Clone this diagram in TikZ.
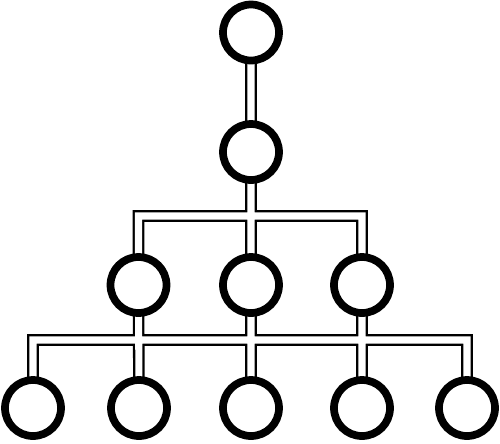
\documentclass[tikz,border=0pt]{standalone}
\usetikzlibrary{backgrounds}
\tikzset{
  knot/.style={circle, draw, fill=white, line width=4.4pt, inner sep=0pt, minimum size=11.2mm},
  link/.style={draw, line width=1.3pt, double=white, double distance=4pt, line join=miter}
}
\begin{document}
\begin{tikzpicture}[x=0.2mm, y=-0.2mm]
                \useasboundingbox (0,0) rectangle (500,443);
                % levels 1 and 2
                \node[knot] (a) at (251,32.5) {};
                \node[knot] (b) at (251,152) {};
                % level 3
                \node[knot] (c1) at (138.5,285) {};
                \node[knot] (c2) at (251,285) {};
                \node[knot] (c3) at (362,285) {};
                % level 4
                \node[knot] (d1) at (33,408) {};
                \node[knot] (d2) at (139,408) {};
                \node[knot] (d3) at (251,408) {};
                \node[knot] (d4) at (362,408) {};
                \node[knot] (d5) at (467,408) {};
                \coordinate (bar1) at (251,216);
                \coordinate (bar2) at (251,340);
                \begin{pgfonlayer}{background}
                \draw[link] (a.center) -- (b.center) -- (c2.center) -- (d3.center)
                            (c1.center) |- (bar1) -| (c3.center)
                            (c1.center) -- (d2.center)
                            (c3.center) -- (d4.center)
                            (d1.center) |- (bar2) -| (d5.center);
                \end{pgfonlayer}
            \end{tikzpicture}
\end{document}
